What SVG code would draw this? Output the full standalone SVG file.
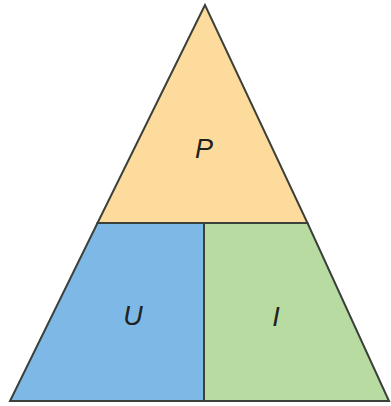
<svg xmlns="http://www.w3.org/2000/svg" width="391" height="406" viewBox="0 0 391 406">
<style>
.reg{stroke:#3b403b;stroke-width:2;stroke-linejoin:miter}
.lbl{font-family:"Liberation Sans",Arial,sans-serif;font-style:italic;font-size:27px;fill:#1e2320;text-anchor:middle}
</style>
<rect width="391" height="406" fill="#ffffff"/>
<g id="P">
<polygon class="reg" points="205,5 97.5,223 307.5,223" fill="#fddb9c"/>
<text class="lbl" x="204" y="158">P</text>
</g>
<g id="U">
<polygon class="reg" points="97.5,223 204,223 204,401 10,401" fill="#7db8e6"/>
<text class="lbl" x="133" y="325">U</text>
</g>
<g id="I">
<polygon class="reg" points="204,223 307.5,223 389,401 204,401" fill="#b7dba1"/>
<text class="lbl" x="276" y="326">I</text>
</g>
<g id="connectors"></g>
</svg>
